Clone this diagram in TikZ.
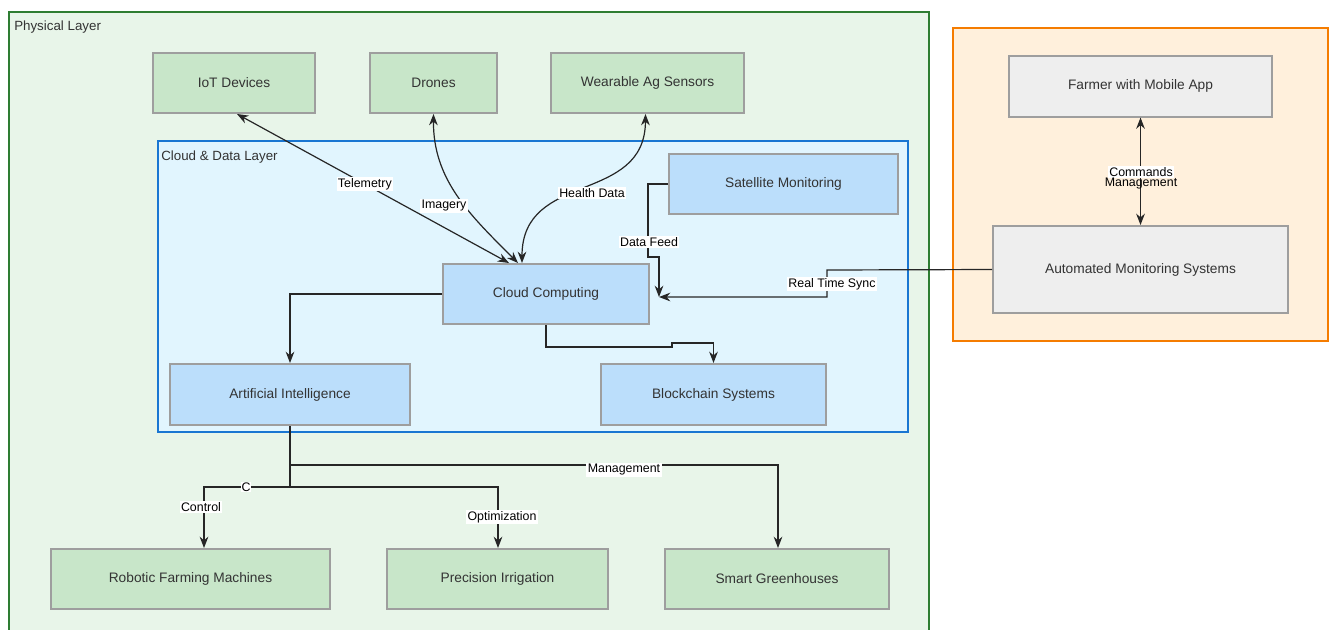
\documentclass[tikz,border=0pt]{standalone}
\usepackage{fontspec}
\setmainfont{Liberation Sans}
\usetikzlibrary{arrows.meta,calc}
\definecolor{physfill}{HTML}{E8F5E9}
\definecolor{physline}{HTML}{2E7D32}
\definecolor{cloudfill}{HTML}{E1F5FE}
\definecolor{cloudline}{HTML}{1976D2}
\definecolor{orfill}{HTML}{FFF0DC}
\definecolor{orline}{HTML}{F57C00}
\definecolor{greennode}{HTML}{C8E6C9}
\definecolor{bluenode}{HTML}{BBDEFB}
\definecolor{graynode}{HTML}{EEEEEE}
\definecolor{nodeline}{HTML}{9E9E9E}
\definecolor{txt}{HTML}{333333}
\begin{document}
\begin{tikzpicture}[x=0.75pt,y=-0.75pt,
  box/.style={draw=nodeline,line width=1.5pt,inner sep=0pt,text=txt,font=\fontsize{10.3}{12}\selectfont},
  gbox/.style={box,fill=greennode},
  bbox/.style={box,fill=bluenode},
  ybox/.style={box,fill=graynode},
  conn/.style={draw=black!85,line width=0.9pt,-{Stealth[length=8.5pt,width=6.5pt]}},
  dconn/.style={draw=black!85,line width=0.9pt,{Stealth[length=8.5pt,width=6.5pt]}-{Stealth[length=8.5pt,width=6.5pt]}},
  lbl/.style={fill=white,inner sep=1pt,font=\fontsize{9.3}{11}\selectfont,text=black},
  layerlbl/.style={anchor=west,inner sep=0pt,text=txt,font=\fontsize{10}{12}\selectfont}]
\useasboundingbox (0,0) rectangle (1333,629);
% layers
\draw[fill=physfill,draw=physline,line width=1.5pt] (9,12) rectangle (929,640);
\node[layerlbl] (physlbl) at (14,27) {Physical Layer};
\draw[fill=orfill,draw=orline,line width=1.5pt] (953,28) rectangle (1328,341);
\draw[fill=cloudfill,draw=cloudline,line width=1.5pt] (158,141) rectangle (908,432);
\node[layerlbl] (cloudlbl) at (161,157) {Cloud \& Data Layer};
% nodes
\node[gbox,minimum width=162*0.75pt,minimum height=60*0.75pt] (iot) at (234,83) {IoT Devices};
\node[gbox,minimum width=127*0.75pt,minimum height=60*0.75pt] (drones) at (433.5,83) {Drones};
\node[gbox,minimum width=193*0.75pt,minimum height=60*0.75pt] (wear) at (647.5,83) {Wearable Ag Sensors};
\node[ybox,minimum width=263*0.75pt,minimum height=61*0.75pt] (farmer) at (1140.5,86) {Farmer with Mobile App};
\node[ybox,minimum width=295*0.75pt,minimum height=87*0.75pt] (ams) at (1140.5,269.5) {Automated Monitoring Systems};
\node[bbox,minimum width=229*0.75pt,minimum height=60*0.75pt] (sat) at (783.5,184) {Satellite Monitoring};
\node[bbox,minimum width=206*0.75pt,minimum height=60*0.75pt] (cloud) at (546,294) {Cloud Computing};
\node[bbox,minimum width=240*0.75pt,minimum height=61*0.75pt] (ai) at (290,394.5) {Artificial Intelligence};
\node[bbox,minimum width=225*0.75pt,minimum height=61*0.75pt] (bc) at (713.5,394.5) {Blockchain Systems};
\node[gbox,minimum width=279*0.75pt,minimum height=60*0.75pt] (robot) at (190.5,579) {Robotic Farming Machines};
\node[gbox,minimum width=221*0.75pt,minimum height=60*0.75pt] (irr) at (497.5,579) {Precision Irrigation};
\node[gbox,minimum width=224*0.75pt,minimum height=60*0.75pt] (green) at (777,579) {Smart Greenhouses};
\coordinate (ccin) at (659,297);
% connectors
\draw[dconn] ($(iot.south)+(3,0)$) -- ($(cloud.north)+(-37,0)$) node[lbl,pos=0.47] {Telemetry};
\draw[dconn] (drones.south) .. controls (433,180) and (470,215) .. ($(cloud.north)+(-28,0)$)
  node[lbl] at (444,206) {Imagery};
\draw[dconn] ($(wear.south)+(-2,0)$) .. controls (645,205) and (522,170) .. ($(cloud.north)+(-24,0)$)
  node[lbl] at (592,193) {Health Data};
\draw[conn] (sat.west) -- (648,184) -- (648,257) -- (659,257) -- (ccin)
  node[lbl] at (649,242) {Data Feed};
\draw[conn] (ams.west) -- (827,270) -- (827,297) -- (ccin)
  node[lbl] at (832,284) {Real Time Sync};
\draw[dconn] (farmer.south) -- (ams.north);
\node[lbl] (cmdlbl) at (1141,172) {Commands};
\node[inner sep=0pt,font=\fontsize{9.3}{11}\selectfont] (mgmtlbl) at (1141,184) {Management};
\draw[conn] (cloud.west) -| (ai.north);
\draw[conn] (cloud.south) -- (546,347) -- (672,347) -- (672,343) -- (bc.north |- 0,343) -- (bc.north);
\draw[conn] (ai.south) -- (290,487) -- (204,487) -- ($(robot.north)+(13.5,0)$)
  node[lbl] at (201,507) {Control};
\node[lbl,inner sep=0.5pt] (clbl) at (246,487) {C};
\draw[conn] (290,487) -- (498,487) -- (irr.north -| 498,0)
  node[lbl] at (502,517) {Optimization};
\draw[conn] (290,465) -- (778,465) -- (green.north -| 778,0)
  node[lbl] at (624,470) {Management};
\end{tikzpicture}
\end{document}
